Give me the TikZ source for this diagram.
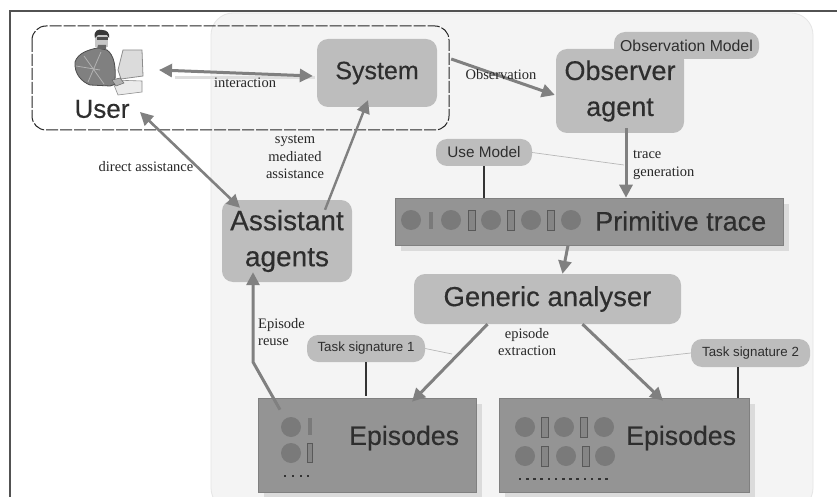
\documentclass[tikz,border=0pt]{standalone}
\usepackage{fontspec}
\usetikzlibrary{arrows.meta,calc}
\setmainfont{Liberation Serif}
\newfontfamily\lab[FakeBold=0.35]{Liberation Sans}
\newfontfamily\labs{Liberation Sans}
\definecolor{boxgray}{HTML}{BDBDBD}
\definecolor{rectgray}{HTML}{949494}
\definecolor{arrgray}{HTML}{808080}
\definecolor{txtgray}{HTML}{2E2E2E}
\definecolor{panelgray}{HTML}{F4F4F4}
\definecolor{dotgray}{HTML}{7A7A7A}
\tikzset{
  bigbox/.style={fill=boxgray,rounded corners=11pt,inner sep=0pt,text=txtgray,align=center},
  sigbox/.style={fill=boxgray,rounded corners=11pt,inner sep=0pt,text=txtgray},
  rectbox/.style={fill=rectgray,draw=arrgray,line width=.6pt,inner sep=0pt},
  shade/.style={fill=black!14,draw=none},
  arr/.style={draw=arrgray,line width=3pt,-{Triangle[length=13pt,width=13pt]}},
  darr/.style={draw=arrgray,line width=3pt,{Triangle[length=13pt,width=13pt]}-{Triangle[length=13pt,width=13pt]}},
  tie/.style={draw=black!80,line width=1.2pt},
  thin tie/.style={draw=black!28,line width=.7pt},
  lbl/.style={font=\fontsize{14.5}{17.5}\selectfont,text=black!85,inner sep=0pt,align=center},
  biglab/.style={font=\lab\fontsize{27}{31}\selectfont,text=txtgray,inner sep=0pt},
  ball/.style={circle,fill=dotgray,minimum size=20pt,inner sep=0pt},
  bar/.style={fill=black!48,draw=black!65,line width=.8pt,inner sep=0pt},
  tick/.style={fill=black!80,minimum size=2.6pt,inner sep=0pt},
}
\begin{document}
\begin{tikzpicture}[x=1pt,y=-1pt]
\useasboundingbox (0,0) rectangle (837,497);
\fill[white] (0,0) rectangle (837,497);
% frame
\draw[black!68,line width=1.8pt] (10,497) -- (10,11) -- (837,11);
% panel
\draw[fill=panelgray,draw=black!10,line width=.8pt,rounded corners=22pt] (211,13) rectangle (813,510);
% dashed group
\draw[black!85,line width=1pt,dash pattern=on 12pt off 2pt,rounded corners=14pt] (32,26) rectangle (449,130);

% boxes
\node[bigbox,minimum width=120pt,minimum height=68pt,font=\lab\fontsize{25}{29}\selectfont] (sys) at (377,73) {System};
\node[bigbox,minimum width=128pt,minimum height=84pt,font=\lab\fontsize{27}{36}\selectfont] (obs) at (620,91) {Observer\\agent};
\node[sigbox,minimum width=145pt,minimum height=27pt,font=\labs\fontsize{15.8}{18}\selectfont] (obsm) at (686.5,45.5) {Observation Model};
\node[sigbox,minimum width=96pt,minimum height=27pt,font=\labs\fontsize{15.3}{18}\selectfont] (usem) at (484,152.5) {Use Model};
\node[bigbox,minimum width=130pt,minimum height=82pt,font=\lab\fontsize{28}{36}\selectfont] (asst) at (287,241) {Assistant\\agents};
\node[bigbox,minimum width=267pt,minimum height=50pt,font=\lab\fontsize{27.5}{31}\selectfont] (gen) at (547.5,299) {Generic analyser};
\node[sigbox,minimum width=118pt,minimum height=27pt,font=\labs\fontsize{13.3}{16}\selectfont] (ts1) at (366,348.5) {Task signature 1};
\node[sigbox,minimum width=119pt,minimum height=28pt,font=\labs\fontsize{13.3}{16}\selectfont] (ts2) at (750.5,353) {Task signature 2};

% shadows and rectangles
\fill[shade] (401,204) rectangle (789,251);
\fill[shade] (264,404) rectangle (482,497);
\fill[shade] (505,404) rectangle (755,497);
\node[rectbox,minimum width=388pt,minimum height=47pt] (prim) at (589,221.5) {};
\node[rectbox,minimum width=218pt,minimum height=94pt] (ep1) at (367,445) {};
\node[rectbox,minimum width=250pt,minimum height=94pt] (ep2) at (624,445) {};
\node[biglab,anchor=west] (primt) at (595,221) {Primitive trace};
\node[biglab,anchor=west,font=\lab\fontsize{26.7}{31}\selectfont] (ep1t) at (349,438) {Episodes};
\node[biglab,anchor=west,font=\lab\fontsize{26.7}{31}\selectfont] (ep2t) at (626,438) {Episodes};

% primitive trace tokens
\foreach \n/\x in {a/411,b/451,c/491,d/531,e/571}{\node[ball] (p\n) at (\x,220) {};}
\node[fill=dotgray,minimum width=4pt,minimum height=17pt,inner sep=0pt] (pb1) at (430.7,220) {};
\foreach \n/\x in {2/471.7,3/510.7,4/551.3}{\node[bar,minimum width=7pt,minimum height=20pt] (pb\n) at (\x,220) {};}
% episodes 1 tokens
\node[ball] (e1a) at (291,427) {};
\node[ball] (e1b) at (291,453) {};
\node[fill=dotgray,minimum width=4pt,minimum height=17pt,inner sep=0pt] (e1c) at (310,426) {};
\node[bar,minimum width=5pt,minimum height=19pt] (e1d) at (309.5,453) {};
\foreach \n/\x in {1/285,2/293,3/301,4/308}{\node[tick] (e1t\n) at (\x,476) {};}
% episodes 2 tokens
\foreach \n/\x in {a/525,b/564,c/604}{\node[ball] (e2\n) at (\x,427) {};}
\foreach \n/\x in {d/525,e/566,f/605}{\node[ball] (e2\n) at (\x,456) {};}
\foreach \n/\x/\y in {g/545/427,h/584/427,i/545/456,j/586/456}{\node[bar,minimum width=7pt,minimum height=20pt] (e2\n) at (\x,\y) {};}
\foreach \i in {0,...,12}{\node[tick] (e2t\i) at ({520+7.2*\i},479) {};}

% user icon
\begin{scope}
  \fill[black!14] (123,50) -- (142,50) -- (143,76) -- (121,79) -- (118,70) -- cycle;
  \draw[black!45,line width=.8pt] (123,50) -- (142,50) -- (143,76) -- (121,79) -- (118,70) -- cycle;
  \fill[black!8,draw=black!45,line width=.6pt] (112,80) -- (142,81) -- (142,92) -- (118,95) -- cycle;
  \fill[black!50,draw=black!70,line width=.8pt] (75,62) .. controls (78,53) and (88,50) .. (97,48) -- (107,50) .. controls (114,55) and (116,66) .. (115,80) -- (116,84) -- (110,86) -- (90,85) .. controls (82,82) and (74,74) .. (75,62) -- cycle;
  \draw[black!30,line width=.8pt] (84,56) -- (104,84) (101,52) -- (88,82) (76,66) -- (100,70);
  \fill[black!22] (95,32) rectangle (108,47);
  \fill[black!78] (95,38) .. controls (93,30) and (99,29) .. (102,30) .. controls (107,30) and (110,33) .. (109,38) -- (107,35) -- (98,35) -- cycle;
  \fill[black!70] (97,37) rectangle (108,40);
  \fill[black!60] (98,45) -- (106,45) -- (106,49) -- (97,49) -- cycle;
  \fill[black!30,draw=black!60,line width=.5pt] (112,80) -- (120,78) -- (124,83) -- (116,86) -- cycle;
\end{scope}
\node[biglab,font=\lab\fontsize{26}{30}\selectfont] (user) at (102,109) {User};
\coordinate (uI) at (159,70);
\coordinate (uA) at (140,112);
\coordinate (rbend) at (253,362);

% interaction shadow and connectors
\draw[black!13,line width=3pt] (175,78) -- (315,78);
\draw[darr] (uI) -- ([xshift=-4pt,yshift=-3pt]sys.west);
\draw[darr,line width=2.6pt] (uA) -- ([xshift=-47pt,yshift=-8pt]asst.north);
\draw[arr,line width=2.4pt] ([xshift=38pt,yshift=-10pt]asst.north) -- ([xshift=-9pt,yshift=7pt]sys.south);
\draw[arr] ([xshift=14pt,yshift=14pt]sys.east) -- ([xshift=-1pt,yshift=-4pt]obs.west);
\draw[arr] ([xshift=6pt,yshift=5pt]obs.south) -- ([xshift=37pt]prim.north);
\draw[arr] ([xshift=-21pt]prim.south) -- ([xshift=15pt]gen.north);
\draw[arr] ([xshift=-60pt]gen.south) -- ([xshift=45pt,yshift=-4pt]ep1.north);
\draw[arr] ([xshift=35pt]gen.south) -- ([xshift=39pt,yshift=-3pt]ep2.north);
\draw[arr,line join=miter] ([xshift=-87pt,yshift=-12pt]ep1.north) -- (rbend) -- ([xshift=-34pt,yshift=10pt]asst.south);
% ties
\draw[tie] (usem.south) -- (usem.south |- prim.north);
\draw[tie] (ts1.south) -- ([yshift=2pt]ts1.south |- ep1.north);
\draw[tie] ([xshift=-12.5pt]ts2.south) -- ([xshift=-12.5pt]ts2.south |- ep2.north);
\coordinate (tTr) at (624,165);
\coordinate (tE1) at (452,354);
\coordinate (tE2) at (628,360);
\draw[thin tie] (usem.east) -- (tTr);
\draw[thin tie] (ts1.east) -- (tE1);
\draw[thin tie] (ts2.west) -- (tE2);

% labels
\node[lbl] (l1) at (245,83) {interaction};
\node[lbl] (l2) at (501,75) {Observation};
\node[lbl] (l3) at (146,167) {direct assistance};
\node[lbl] (l4) at (295,157) {system\\mediated\\assistance};
\node[lbl,anchor=west,align=left] (l5) at (633,165) {trace\\generation};
\node[lbl,anchor=west,align=left] (l6) at (258,332) {Episode\\reuse};
\node[lbl] (l7) at (527,342) {episode\\extraction};
\end{tikzpicture}
\end{document}
